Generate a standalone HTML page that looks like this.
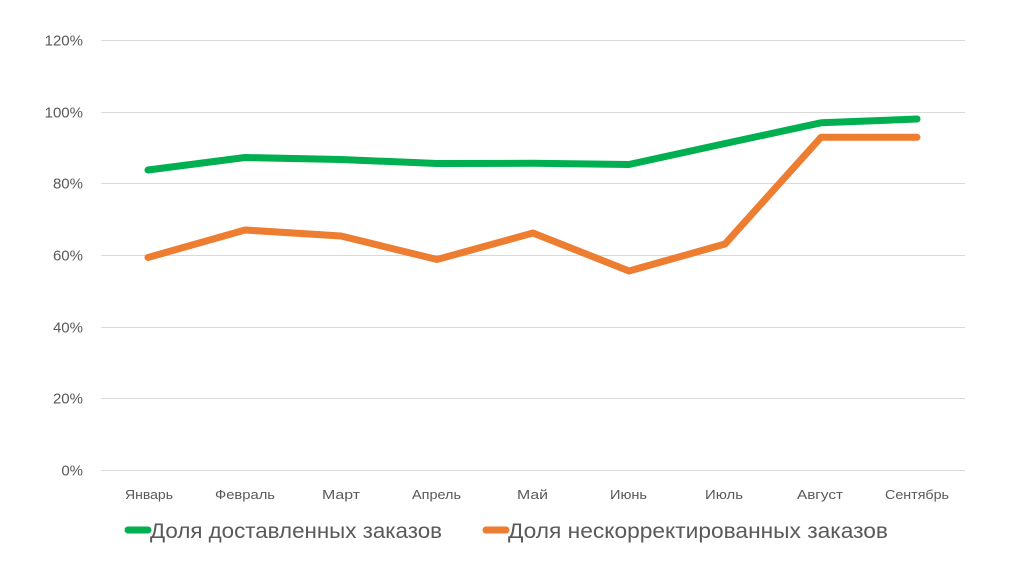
<!DOCTYPE html>
<html>
<head>
<meta charset="utf-8">
<style>
html,body{margin:0;padding:0;background:#fff;}
svg{display:block;}
text{font-family:"Liberation Sans","DejaVu Sans",sans-serif;fill:#595959;}
</style>
</head>
<body>
<svg width="1024" height="576" viewBox="0 0 1024 576" xmlns="http://www.w3.org/2000/svg">
<rect width="1024" height="576" fill="#fff"/>
<g stroke="#d9d9d9" stroke-width="1">
<line x1="101" y1="40.5" x2="965" y2="40.5"/>
<line x1="101" y1="112.5" x2="965" y2="112.5"/>
<line x1="101" y1="183.5" x2="965" y2="183.5"/>
<line x1="101" y1="255.5" x2="965" y2="255.5"/>
<line x1="101" y1="327.5" x2="965" y2="327.5"/>
<line x1="101" y1="398.5" x2="965" y2="398.5"/>
<line x1="101" y1="470.5" x2="965" y2="470.5"/>
</g>
<g font-size="15" text-anchor="end">
<text x="83" y="45.5">120%</text>
<text x="83" y="117.5">100%</text>
<text x="83" y="188.5">80%</text>
<text x="83" y="260.5">60%</text>
<text x="83" y="332.5">40%</text>
<text x="83" y="403.5">20%</text>
<text x="83" y="475.5">0%</text>
</g>
<g font-size="13">
<text x="125" y="499" textLength="48" lengthAdjust="spacingAndGlyphs">Январь</text>
<text x="215" y="499" textLength="60" lengthAdjust="spacingAndGlyphs">Февраль</text>
<text x="322" y="499" textLength="38" lengthAdjust="spacingAndGlyphs">Март</text>
<text x="412" y="499" textLength="49" lengthAdjust="spacingAndGlyphs">Апрель</text>
<text x="517" y="499" textLength="31" lengthAdjust="spacingAndGlyphs">Май</text>
<text x="610" y="499" textLength="37" lengthAdjust="spacingAndGlyphs">Июнь</text>
<text x="705" y="499" textLength="38" lengthAdjust="spacingAndGlyphs">Июль</text>
<text x="797" y="499" textLength="46" lengthAdjust="spacingAndGlyphs">Август</text>
<text x="885" y="499" textLength="64" lengthAdjust="spacingAndGlyphs">Сентябрь</text>
</g>
<polyline fill="none" stroke="#00B050" stroke-width="7" stroke-linecap="round" stroke-linejoin="round"
 points="148,170 245,157.5 341,159.5 437,163.5 533,163.3 629,164.5 725,143.5 821,122.8 917,119"/>
<polyline fill="none" stroke="#ED7D31" stroke-width="7" stroke-linecap="round" stroke-linejoin="round"
 points="148,257.5 245,230 341,236 437,259.5 533,233 629,271 725,244 821,137.3 917,137.3"/>
<line x1="128" y1="530" x2="148" y2="530" stroke="#00B050" stroke-width="7" stroke-linecap="round"/>
<line x1="486" y1="530" x2="506" y2="530" stroke="#ED7D31" stroke-width="7" stroke-linecap="round"/>
<g font-size="21">
<text x="150" y="538" textLength="292" lengthAdjust="spacingAndGlyphs">Доля доставленных заказов</text>
<text x="508" y="538" textLength="380" lengthAdjust="spacingAndGlyphs">Доля нескорректированных заказов</text>
</g>
</svg>
</body>
</html>
